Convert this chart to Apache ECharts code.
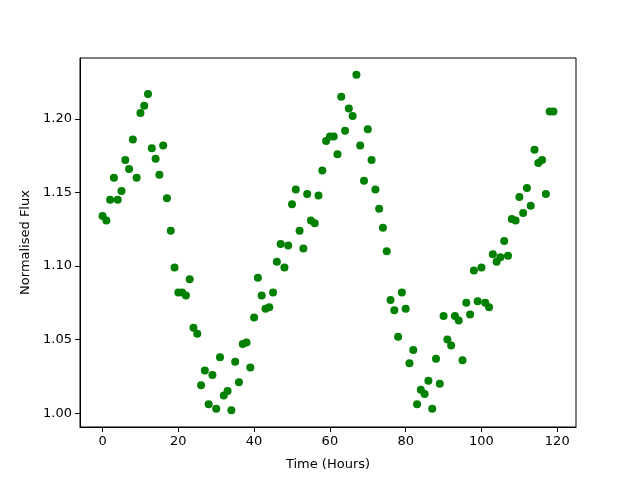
<html>
<head>
<meta charset="utf-8">
<script src="https://cdn.jsdelivr.net/npm/echarts@6/dist/echarts.min.js"></script>
</head>
<body style="margin:0;padding:0;">
<div id="main" style="width:640px;height:480px;"></div>
<script>
// hours 0..119, one reading per hour
var hours = [];
for (var i = 0; i < 120; i++) hours.push(i);
var flux = [
  1.134, 1.131, 1.145, 1.160, 1.145, 1.151, 1.172, 1.166, 1.186, 1.160,
  1.204, 1.209, 1.217, 1.180, 1.173, 1.162, 1.182, 1.146, 1.124, 1.099,
  1.082, 1.082, 1.080, 1.091, 1.058, 1.054, 1.019, 1.029, 1.006, 1.026,
  1.003, 1.038, 1.012, 1.015, 1.002, 1.035, 1.021, 1.047, 1.048, 1.031,
  1.065, 1.092, 1.080, 1.071, 1.072, 1.082, 1.103, 1.115, 1.099, 1.114,
  1.142, 1.152, 1.124, 1.112, 1.149, 1.131, 1.129, 1.148, 1.165, 1.185,
  1.188, 1.188, 1.176, 1.215, 1.192, 1.207, 1.202, 1.230, 1.182, 1.158,
  1.193, 1.172, 1.152, 1.139, 1.126, 1.110, 1.077, 1.070, 1.052, 1.082,
  1.071, 1.034, 1.043, 1.006, 1.016, 1.013, 1.022, 1.003, 1.037, 1.020,
  1.066, 1.050, 1.046, 1.066, 1.063, 1.036, 1.075, 1.067, 1.097, 1.076,
  1.099, 1.075, 1.072, 1.108, 1.103, 1.106, 1.117, 1.107, 1.132, 1.131,
  1.147, 1.136, 1.153, 1.141, 1.179, 1.170, 1.172, 1.149, 1.205, 1.205
];
var xTicks = [0, 20, 40, 60, 80, 100, 120];
var yTicks = [1.00, 1.05, 1.10, 1.15, 1.20];

var points = [];
for (var k = 0; k < hours.length; k++) points.push([hours[k], flux[k]]);

var fs = 13;
var font = 'DejaVu Sans';
var option = {
  animation: false,
  backgroundColor: '#fff',
  grid: {
    left: 80, right: 64, top: 58, bottom: 53,
    show: true, borderColor: '#000', borderWidth: 1
  },
  xAxis: {
    type: 'value',
    min: -5.95, max: 124.95,
    name: 'Time (Hours)',
    nameLocation: 'middle',
    nameGap: 31,
    nameTextStyle: { fontSize: fs, fontFamily: font, color: '#000' },
    axisLine: { show: true, onZero: false, lineStyle: { color: '#000' } },
    axisTick: { show: true, length: 5, customValues: xTicks, lineStyle: { color: '#000' } },
    axisLabel: { customValues: xTicks, fontSize: fs, fontFamily: font, color: '#000', margin: 8 },
    splitLine: { show: false }
  },
  yAxis: {
    type: 'value',
    min: 0.9906, max: 1.2414,
    name: 'Normalised Flux',
    nameLocation: 'middle',
    nameGap: 47,
    nameTextStyle: { fontSize: fs, fontFamily: font, color: '#000' },
    axisLine: { show: true, onZero: false, lineStyle: { color: '#000' } },
    axisTick: { show: true, length: 5, customValues: yTicks, lineStyle: { color: '#000' } },
    axisLabel: {
      customValues: yTicks, fontSize: fs, fontFamily: font, color: '#000', margin: 8,
      formatter: function (v) { return v.toFixed(2); }
    },
    splitLine: { show: false }
  },
  series: [{
    type: 'scatter',
    data: points,
    symbol: 'circle',
    symbolSize: 8,
    itemStyle: { color: '#008000', opacity: 1 }
  }]
};
echarts.init(document.getElementById('main')).setOption(option);
</script>
</body>
</html>
